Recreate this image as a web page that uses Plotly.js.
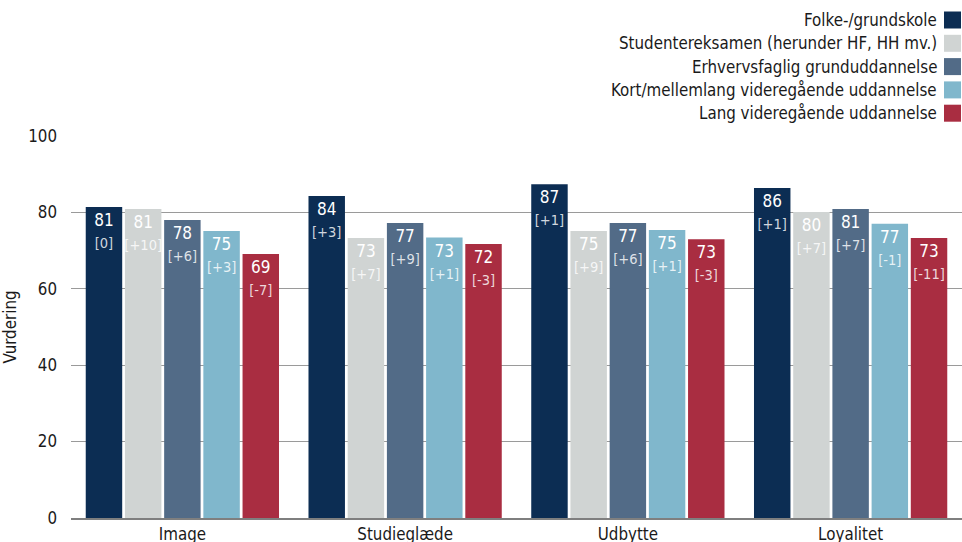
<!DOCTYPE html>
<html>
<head>
<meta charset="utf-8">
<script src="https://cdn.plot.ly/plotly-3.0.1.min.js"></script>
<style>html,body{margin:0;padding:0;background:#fff;}#chart{width:962px;height:542px;}</style>
</head>
<body>
<div id="chart"></div>
<script>
const categories = ["Image", "Studieglæde", "Udbytte", "Loyalitet"];
const seriesNames = [
  "Folke-/grundskole",
  "Studentereksamen (herunder HF, HH mv.)",
  "Erhvervsfaglig grunduddannelse",
  "Kort/mellemlang videregående uddannelse",
  "Lang videregående uddannelse"
];
const folkeValues = [81.4, 84.3, 87.4, 86.4];
const studentValues = [80.9, 73.3, 75.1, 80.1];
const erhvervValues = [78.0, 77.2, 77.2, 80.9];
const kortValues = [75.1, 73.4, 75.4, 77.0];
const langValues = [69.1, 71.7, 73.0, 73.3];
const folkeDelta = ["[0]", "[+3]", "[+1]", "[+1]"];
const studentDelta = ["[+10]", "[+7]", "[+9]", "[+7]"];
const erhvervDelta = ["[+6]", "[+9]", "[+6]", "[+7]"];
const kortDelta = ["[+3]", "[+1]", "[+1]", "[-1]"];
const langDelta = ["[-7]", "[-3]", "[-3]", "[-11]"];
const colors = ["#0c2d53", "#d0d4d3", "#526b87", "#80b7cc", "#a92d41"];

const FONT = "'DejaVu Sans Condensed', 'DejaVu Sans', sans-serif";
const values = [folkeValues, studentValues, erhvervValues, kortValues, langValues];
const deltas = [folkeDelta, studentDelta, erhvervDelta, kortDelta, langDelta];

const traces = values.map((v, i) => ({
  type: "bar",
  name: seriesNames[i],
  x: categories,
  y: v,
  customdata: deltas[i],
  marker: {color: colors[i]},
  texttemplate: "%{y:.0f}<br><span style='font-size:14.5px;color:rgba(255,255,255,0.82)'>%{customdata}</span>",
  textposition: "inside",
  insidetextanchor: "end",
  constraintext: "none",
  textangle: 0,
  insidetextfont: {family: FONT, size: 17, color: "#ffffff"},
  hoverinfo: "skip",
  showlegend: false
}));

const annotations = [];
const shapes = [];
const rowY0 = 20, rowStep = 23.3;
seriesNames.forEach((n, i) => {
  const yc = rowY0 + i * rowStep;
  annotations.push({
    xref: "paper", yref: "paper",
    x: (939 - 71) / 891, y: 1 + (136 - yc) / 382,
    xanchor: "right", yanchor: "middle",
    text: n, showarrow: false,
    font: {family: FONT, size: 16.8, color: "#1a1a1a"}
  });
  shapes.push({
    type: "rect", xref: "paper", yref: "paper",
    x0: (944 - 71) / 891, x1: (961 - 71) / 891,
    y0: 1 + (136 - yc - 8.5) / 382, y1: 1 + (136 - yc + 8.5) / 382,
    fillcolor: colors[i], line: {width: 0}
  });
});

const layout = {
  width: 962, height: 542,
  margin: {l: 71, r: 0, t: 136, b: 24},
  paper_bgcolor: "#ffffff", plot_bgcolor: "#ffffff",
  font: {family: FONT, size: 16.8, color: "#1a1a1a"},
  barmode: "group",
  bargap: 0.12,
  bargroupgap: 0.07,
  showlegend: false,
  xaxis: {
    type: "category",
    showgrid: false,
    showline: true, linecolor: "#7f7f7f", linewidth: 1.5,
    ticks: "", tickfont: {family: FONT, size: 16.8, color: "#1a1a1a"},
    fixedrange: true
  },
  yaxis: {
    range: [0, 100],
    tickvals: [0, 20, 40, 60, 80, 100],
    showgrid: true, gridcolor: "#9a9a9a", gridwidth: 1,
    zeroline: false,
    showline: false,
    ticks: "", ticklen: 0,
    ticklabelstandoff: 13,
    tickfont: {family: FONT, size: 16.8, color: "#1a1a1a"},
    title: {text: "Vurdering", font: {family: FONT, size: 16.8, color: "#1a1a1a"}, standoff: 7},
    fixedrange: true
  },
  annotations: annotations,
  shapes: shapes
};

Plotly.newPlot("chart", traces, layout, {displayModeBar: false, staticPlot: true});
</script>
</body>
</html>
